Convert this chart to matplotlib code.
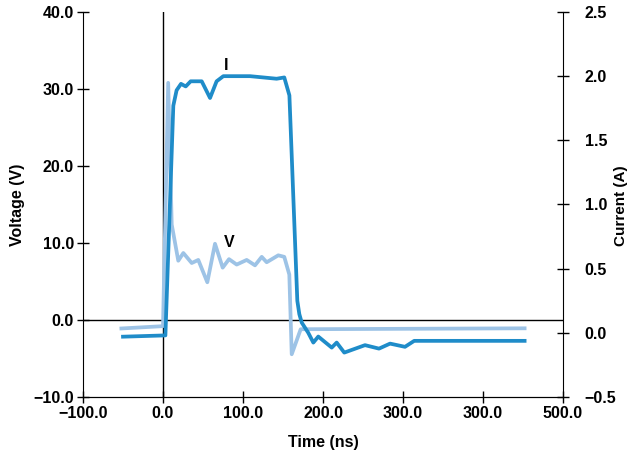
import matplotlib.pyplot as plt
from matplotlib import font_manager

# fonts: narrow bold look of the original
names = {f.name for f in font_manager.fontManager.ttflist}
FAMILY = ["Liberation Sans Narrow", "DejaVu Sans"] if "Liberation Sans Narrow" in names else ["Liberation Sans", "DejaVu Sans"]
plt.rcParams["font.family"] = FAMILY

# ----------------------------
# data
# ----------------------------
v_time = [-52, 0, 6.5, 10.9, 19.1, 25.4, 35.9, 44.1, 55.4, 65, 74.6, 82.5, 92.1,
          104.6, 115, 123.4, 129.6, 144.1, 151.6, 157.9, 160.9, 172.1, 452]
v_volts = [-1.1, -0.8, 30.8, 12.4, 7.7, 8.7, 7.4, 7.8, 4.9, 9.9, 6.8, 7.9, 7.2,
           7.8, 7.1, 8.2, 7.5, 8.4, 8.2, 5.9, -4.45, -1.2, -1.08]

i_time = [-50, 3, 12.9, 17, 22.5, 28.4, 34.6, 48.4, 58.8, 67, 75.4, 108.8, 142,
          151.6, 158, 167.9, 170.4, 173.4, 181.6, 187.9, 194.1, 210.9, 217.1,
          226.6, 252.5, 270, 283.8, 302.5, 314, 452]
i_amps = [-0.03, -0.02, 1.77, 1.89, 1.94, 1.92, 1.96, 1.96, 1.83, 1.96, 2.0, 2.0, 1.98,
          1.99, 1.85, 0.25, 0.146, 0.08, 0.0, -0.076, -0.029, -0.115, -0.076,
          -0.154, -0.096, -0.123, -0.084, -0.109, -0.0625, -0.0625]

x_ticks = [-100, 0, 100, 200, 300, 400, 500]
x_labels = ["\u2212100.0", "0.0", "100.0", "200.0", "300.0", "300.0", "500.0"]
v_ticks = [-10, 0, 10, 20, 30, 40]
i_ticks = [-0.5, 0.0, 0.5, 1.0, 1.5, 2.0, 2.5]

LIGHT = "#9dc3e6"
DARK = "#1f8cc9"

fig = plt.figure(figsize=(6.34, 4.59), dpi=100)
ax = fig.add_axes([83 / 634, 1 - 397 / 459, 480 / 634, 385 / 459])
ax2 = ax.twinx()

ax.plot(v_time, v_volts, color=LIGHT, lw=2.7, solid_joinstyle="round", zorder=3)
ax2.plot(i_time, i_amps, color=DARK, lw=2.7, solid_joinstyle="round", zorder=3)

ax.axvline(0, color="black", lw=1, zorder=2)
ax.axhline(0, color="black", lw=1, zorder=2)

ax.set_xlim(-100, 500)
ax.set_ylim(-10, 40)
ax2.set_ylim(-0.5, 2.5)

ax.set_xticks(x_ticks)
ax.set_xticklabels(x_labels)
ax.set_yticks(v_ticks)
ax.set_yticklabels(["\u221210.0" if t < 0 else f"{t:.1f}" for t in v_ticks])
ax2.set_yticks(i_ticks)
ax2.set_yticklabels(["\u22120.5" if t < 0 else f"{t:.1f}" for t in i_ticks])

for a in (ax, ax2):
    a.spines["top"].set_visible(False)
    a.tick_params(direction="inout", length=9, width=1, labelsize=11.5, pad=2)
    for lab in a.get_xticklabels() + a.get_yticklabels():
        lab.set_fontweight("bold")
ax2.tick_params(axis="y", pad=11)
ax2.spines["left"].set_visible(False)
ax.spines["right"].set_visible(False)

ax.set_xlabel("Time (ns)", fontsize=11.5, fontweight="bold", labelpad=10)
ax.set_ylabel("Voltage (V)", fontsize=11.5, fontweight="bold", labelpad=6)
# right label placed by hand so it stays inside the figure
fig.text(621 / 634, 1 - 206 / 459, "Current (A)", fontsize=11, fontweight="bold",
         rotation=90, ha="center", va="center")

ax.text(79, 33.1, "I", fontsize=11.5, fontweight="bold", ha="center", va="center")
ax.text(82.5, 10.1, "V", fontsize=11.5, fontweight="bold", ha="center", va="center")

fig.savefig("out.png", dpi=100)
